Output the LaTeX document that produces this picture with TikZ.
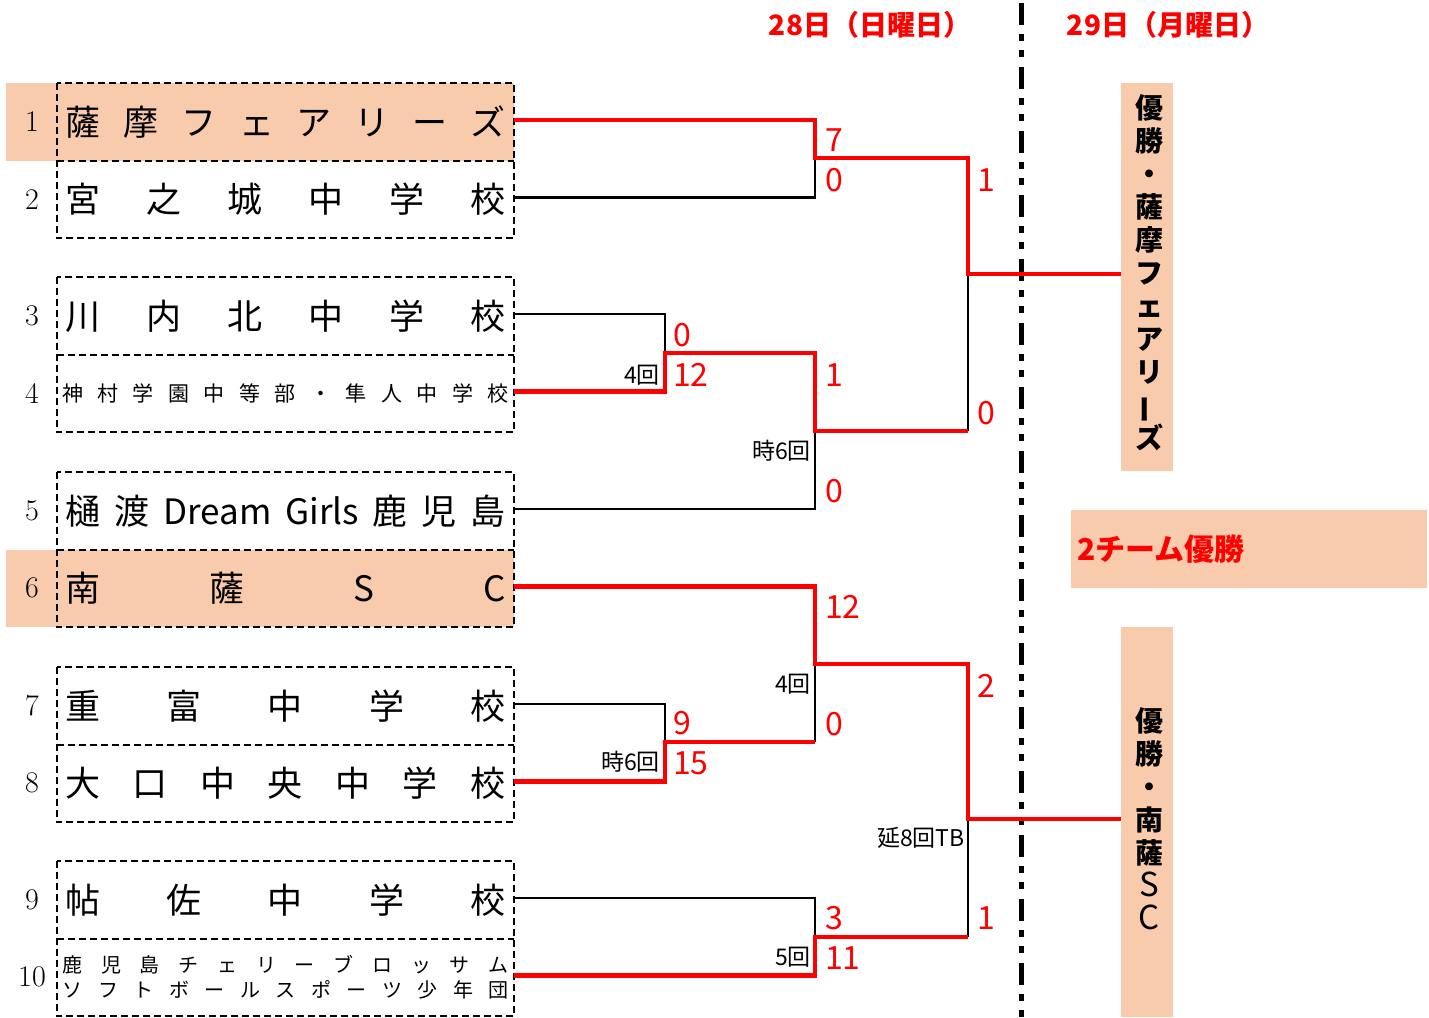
\documentclass[tikz,border=0pt]{standalone}
\usepackage{fontspec}
\newfontfamily\jp{Noto Sans CJK JP}
\definecolor{hl}{HTML}{F8CBAD}
\definecolor{rd}{HTML}{FF0000}
\newcommand{\vbar}{\rotatebox[origin=c]{90}{ー}}
\newcommand{\bigltr}[1]{{\mdseries\fontsize{33}{33}\selectfont #1}}
\begin{document}
\begin{tikzpicture}[x=1pt,y=-1pt,
  row/.style={minimum width=457pt, minimum height=77.5pt, inner sep=0pt, font=\jp\fontsize{35}{40}\selectfont},
  rowsmall/.style={row, font=\jp\fontsize{21}{25}\selectfont},
  num/.style={font=\fontsize{30}{32}\selectfont, inner sep=0pt},
  dbox/.style={draw=black, line width=2pt, dash pattern=on 7pt off 4pt},
  win/.style={draw=rd, line width=4.5pt},
  lose/.style={draw=black, line width=2.5pt},
  score/.style={text=rd, font=\jp\fontsize{32}{34}\selectfont, anchor=west, inner sep=0pt},
  note/.style={font=\jp\fontsize{23}{25}\selectfont, anchor=east, inner sep=0pt},
  hdr/.style={text=rd, font=\jp\bfseries\fontsize{28}{32}\selectfont, inner sep=0pt},
  vlab/.style={font=\jp\bfseries\fontsize{28}{33}\selectfont, align=center, inner sep=0pt},
  winbox/.style={fill=hl, minimum width=52pt, inner sep=0pt}
]
\useasboundingbox (0,0) rectangle (1429,1017);
% highlights
\fill[hl] (6,83) rectangle (514,160.5);
\fill[hl] (6,549.5) rectangle (514,627);
% winner boxes
\node[winbox, minimum height=388pt] (w1) at (1147,277) {};
\node[winbox, minimum height=390pt] (w2) at (1147,822) {};
\node[fill=hl, minimum width=356pt, minimum height=78pt, inner xsep=6pt, text width=344pt, align=left,
      text=rd, font=\jp\bfseries\fontsize{30}{34}\selectfont] (both) at (1249,549) {2チーム優勝};
\node[vlab] (v1) at (1149,273) {優\\勝\\・\\薩\\摩\\フ\\ェ\\ア\\リ\\\vbar\\ズ};
\node[vlab] (v2) at (1149,819) {優\\勝\\・\\南\\薩\\\bigltr{S}\\\bigltr{C}};
% headers
\node[hdr] (d28) at (870,25) {28日（日曜日）};
\node[hdr] (d29) at (1168,25) {29日（月曜日）};
% day divider
\coordinate (dtop) at (1021,3);
\coordinate (dbot) at (1021,1017);
\draw[line width=5pt, dash pattern=on 22pt off 9pt on 7pt off 9pt on 7pt off 10pt] (dtop) -- (dbot);
% team rows
\node[row] (r1) at (285.5,121.75) {\hbox to 440pt{薩\hfill 摩\hfill フ\hfill ェ\hfill ア\hfill リ\hfill ー\hfill ズ}};
\node[row] (r2) at (285.5,199.25) {\hbox to 440pt{宮\hfill 之\hfill 城\hfill 中\hfill 学\hfill 校}};
\node[row] (r3) at (285.5,315.75) {\hbox to 440pt{川\hfill 内\hfill 北\hfill 中\hfill 学\hfill 校}};
\node[rowsmall] (r4) at (285.5,393.25) {\hbox to 447pt{神\hfill 村\hfill 学\hfill 園\hfill 中\hfill 等\hfill 部\hfill ・\hfill 隼\hfill 人\hfill 中\hfill 学\hfill 校}};
\node[row] (r5) at (285.5,510.75) {\hbox to 440pt{樋\hfill 渡\hfill Dream\hfill Girls\hfill 鹿\hfill 児\hfill 島}};
\node[row] (r6) at (285.5,588.25) {\hbox to 440pt{南\hfill 薩\hfill S\hfill C}};
\node[row] (r7) at (285.5,705.75) {\hbox to 440pt{重\hfill 富\hfill 中\hfill 学\hfill 校}};
\node[row] (r8) at (285.5,783.25) {\hbox to 440pt{大\hfill 口\hfill 中\hfill 央\hfill 中\hfill 学\hfill 校}};
\node[row] (r9) at (285.5,899.75) {\hbox to 440pt{帖\hfill 佐\hfill 中\hfill 学\hfill 校}};
\node[rowsmall, font=\jp\fontsize{20}{25}\selectfont, align=center] (r10) at (285.5,977.25)
  {\hbox to 446pt{鹿\hfill 児\hfill 島\hfill チ\hfill ェ\hfill リ\hfill ー\hfill ブ\hfill ロ\hfill ッ\hfill サ\hfill ム}\\
   \hbox to 446pt{ソ\hfill フ\hfill ト\hfill ボ\hfill ー\hfill ル\hfill ス\hfill ポ\hfill ー\hfill ツ\hfill 少\hfill 年\hfill 団}};
% numbers
\foreach \i in {1,...,10} {\node[num] (n\i) at (32,0 |- r\i) {\i};}
% dashed boxes
\foreach \a/\b in {1/2,3/4,5/6,7/8,9/10} {
  \draw[dbox] (r\a.north west) rectangle (r\b.south east);
  \draw[dbox] (r\a.south west) -- (r\a.south east);
}
% line start points on the team rows
\foreach \i in {1,...,10} {\coordinate (p\i) at ([yshift=2pt]r\i.east);}
% match points
\coordinate (m1) at (815,158);
\coordinate (m2) at (665,353);
\coordinate (m3) at (815,431);
\coordinate (f1) at (968,274);
\coordinate (m5) at (665,742);
\coordinate (m6) at (815,664);
\coordinate (m7) at (815,937);
\coordinate (f2) at (968,819);
% losing lines
\draw[lose] (p2) -| (m1);
\draw[lose] (p3) -| (m2);
\draw[lose] (p5) -| (m3);
\draw[lose] (m3 -| f1) -- (f1);
\draw[lose] (p7) -| (m5);
\draw[lose] (m5 -| m6) -- (m6);
\draw[lose] (p9) -| (m7);
\draw[lose] (m7 -| f2) -- (f2);
% winning lines
\draw[win] (p1) -| (m1) -| (f1) -- (f1 -| w1.west);
\draw[win] (p4) -| (m2) -| (m3) -- (m3 -| f1);
\draw[win] (p6) -| (m6) -| (f2) -- (f2 -| w2.west);
\draw[win] (p8) -| (m5) -- (m5 -| m6);
\draw[win] (p10) -| (m7) -- (m7 -| f2);
% scores
\node[score] (s1a) at (825,140) {7};
\node[score] (s1b) at (825,180) {0};
\node[score] (s4a) at (977,180) {1};
\node[score] (s4b) at (977,413) {0};
\node[score] (s2a) at (673,335) {0};
\node[score] (s2b) at (673,375) {12};
\node[score] (s3a) at (825,375) {1};
\node[score] (s3b) at (825,491) {0};
\node[score] (s6a) at (825,607) {12};
\node[score] (s6b) at (825,724) {0};
\node[score] (s5a) at (673,723) {9};
\node[score] (s5b) at (673,763) {15};
\node[score] (s8a) at (977,686) {2};
\node[score] (s8b) at (977,918) {1};
\node[score] (s7a) at (825,918) {3};
\node[score] (s7b) at (825,958) {11};
% notes
\node[note] (e2) at (660,375) {4回};
\node[note] (e3) at (811,451) {時6回};
\node[note] (e6) at (811,684) {4回};
\node[note] (e5) at (660,762) {時6回};
\node[note] (e8) at (965,838) {延8回TB};
\node[note] (e7) at (811,957) {5回};
\end{tikzpicture}
\end{document}
